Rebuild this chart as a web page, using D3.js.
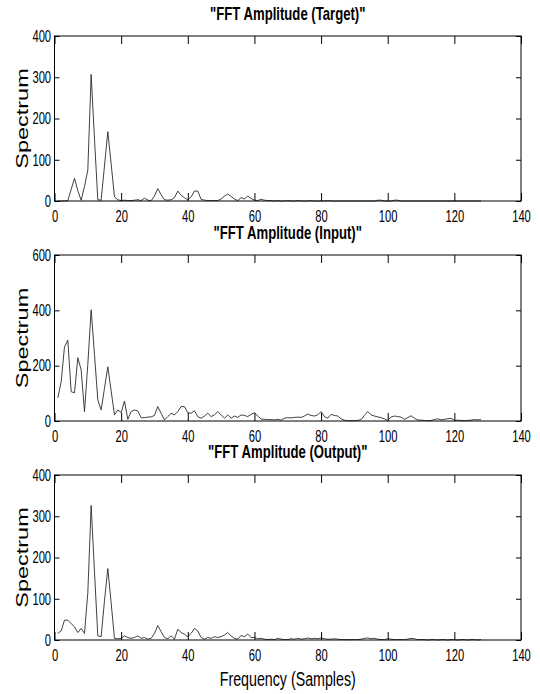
<!DOCTYPE html>
<html>
<head>
<meta charset="utf-8">
<script src="https://cdn.jsdelivr.net/npm/d3@7"></script>
<style>
  body { margin: 0; background: #fff; }
  svg { display: block; }
</style>
</head>
<body>
<svg id="chart" width="540" height="694"></svg>
<script>
// FFT amplitude values, one per sample 1..128
const targetSpectrum = [
  0, 0, 0, 1, 28, 55, 25, 2, 35, 75,
  307, 150, 3, 2, 85, 168, 90, 10, 3, 1,
  2, 1, 1, 2, 3, 1, 7, 2, 1, 12,
  30, 15, 3, 2, 3, 8, 24, 14, 8, 3,
  10, 24, 24, 4, 2, 1, 1, 1, 1, 5,
  12, 17, 11, 5, 1, 8, 5, 12, 6, 2,
  1, 4, 2, 1, 1, 0, 1, 0, 0, 1,
  0, 0, 1, 0, 0, 0, 1, 0, 0, 0,
  0, 1, 0, 0, 0, 0, 0, 0, 0, 0,
  0, 0, 0, 0, 0, 0, 2, 2, 0, 0,
  0, 2, 2, 0, 0, 0, 0, 0, 0, 0,
  0, 0, 0, 0, 0, 0, 0, 0, 0, 0,
  0, 0, 0, 0, 0, 0, 0, 0
];

const inputSpectrum = [
  84, 142, 268, 292, 106, 102, 229, 184, 34, 205,
  402, 240, 76, 40, 118, 196, 109, 22, 40, 30,
  72, 6, 34, 40, 36, 12, 12, 14, 15, 20,
  52, 28, 4, 16, 28, 22, 34, 52, 52, 30,
  28, 37, 16, 10, 18, 28, 16, 22, 34, 22,
  10, 22, 10, 18, 13, 22, 20, 16, 24, 30,
  18, 7, 6, 5, 5, 4, 6, 3, 10, 12,
  11, 13, 14, 13, 18, 25, 20, 18, 22, 34,
  16, 10, 24, 20, 18, 8, 3, 1, 1, 1,
  2, 5, 20, 34, 22, 18, 15, 12, 8, 2,
  14, 18, 16, 14, 6, 12, 19, 10, 4, 3,
  2, 1, 2, 5, 8, 4, 6, 8, 10, 2,
  3, 2, 1, 2, 3, 5, 4, 5
];

const outputSpectrum = [
  16, 22, 48, 48, 40, 32, 18, 28, 16, 115,
  326, 165, 10, 8, 95, 173, 90, 4, 3, 4,
  10, 6, 4, 6, 10, 4, 6, 2, 4, 16,
  35, 20, 6, 3, 10, 2, 26, 18, 14, 8,
  16, 28, 22, 6, 2, 6, 4, 8, 6, 8,
  12, 18, 10, 4, 2, 11, 8, 14, 6, 6,
  3, 4, 2, 1, 2, 1, 4, 2, 1, 1,
  3, 2, 4, 2, 3, 5, 3, 4, 3, 5,
  3, 2, 2, 3, 2, 1, 1, 1, 1, 1,
  1, 2, 4, 5, 3, 4, 2, 1, 1, 3,
  2, 1, 1, 1, 1, 2, 4, 3, 1, 1,
  1, 0, 1, 1, 0, 1, 1, 0, 1, 1,
  0, 1, 1, 0, 1, 1, 0, 1
];

const titles = ['"FFT Amplitude (Target)"', '"FFT Amplitude (Input)"', '"FFT Amplitude (Output)"'];
const yMaxes = [400, 600, 400];
const yTicks = [[0, 100, 200, 300, 400], [0, 200, 400, 600], [0, 100, 200, 300, 400]];
const xTicks = [0, 20, 40, 60, 80, 100, 120, 140];
const yLabel = "Spectrum";
const xLabel = "Frequency (Samples)";

// Layout (the picture is squashed sideways, so text gets a horizontal squeeze)
const left = 54.5, right = 521;
const tops = [36, 255, 475];
const bottoms = [201, 421, 640];
const titleBase = [20, 238.5, 458];
const squeeze = 0.73;
const font = "'Liberation Sans', Arial, Helvetica, sans-serif";

const svg = d3.select("#chart");
const x = d3.scaleLinear().domain([0, 140]).range([left, right]);
const series = [targetSpectrum, inputSpectrum, outputSpectrum];

series.forEach(function(values, p) {
  const y = d3.scaleLinear().domain([0, yMaxes[p]]).range([bottoms[p], tops[p]]);
  const g = svg.append("g");

  // Spectrum line
  const line = d3.line()
    .x((d, i) => x(i + 1))
    .y(d => y(d));

  g.append("path")
    .datum(values)
    .attr("fill", "none")
    .attr("stroke", "#2a2a2a")
    .attr("stroke-width", 0.9)
    .attr("d", line);

  // Box
  g.append("rect")
    .attr("x", left)
    .attr("y", tops[p])
    .attr("width", right - left)
    .attr("height", bottoms[p] - tops[p])
    .attr("fill", "none")
    .attr("stroke", "#000")
    .attr("stroke-width", 1);

  // Bottom axis with labels, ticks pointing inward
  g.append("g")
    .attr("transform", "translate(0," + bottoms[p] + ")")
    .call(d3.axisBottom(x).tickValues(xTicks).tickSize(-8).tickSizeOuter(0).tickPadding(9))
    .call(ax => ax.select(".domain").remove())
    .call(ax => ax.selectAll("text")
      .attr("transform", "scale(0.68,1)")
      .style("font-family", font)
      .style("font-size", "16.5px")
      .attr("fill", "#000"));

  // Top axis, ticks only
  g.append("g")
    .attr("transform", "translate(0," + tops[p] + ")")
    .call(d3.axisTop(x).tickValues(xTicks).tickSize(-8).tickSizeOuter(0).tickFormat(""))
    .call(ax => ax.select(".domain").remove());

  // Left axis with labels
  g.append("g")
    .attr("transform", "translate(" + left + ",0)")
    .call(d3.axisLeft(y).tickValues(yTicks[p]).tickSize(-5).tickSizeOuter(0).tickPadding(5))
    .call(ax => ax.select(".domain").remove())
    .call(ax => ax.selectAll("text")
      .attr("transform", "scale(0.68,1)")
      .style("font-family", font)
      .style("font-size", "16.5px")
      .attr("fill", "#000"));

  // Right axis, ticks only
  g.append("g")
    .attr("transform", "translate(" + right + ",0)")
    .call(d3.axisRight(y).tickValues(yTicks[p]).tickSize(-5).tickSizeOuter(0).tickFormat(""))
    .call(ax => ax.select(".domain").remove());

  g.selectAll(".tick line").attr("stroke", "#000");

  // Title
  g.append("g")
    .attr("transform", "translate(" + (left + right) / 2 + "," + titleBase[p] + ") scale(" + squeeze + ",1)")
    .append("text")
    .attr("text-anchor", "middle")
    .style("font-family", font)
    .style("font-size", "18px")
    .style("font-weight", "bold")
    .text(titles[p]);

  // Y label
  g.append("g")
    .attr("transform", "translate(28," + (tops[p] + bottoms[p]) / 2 + ") scale(1,1.38) rotate(-90)")
    .append("text")
    .attr("text-anchor", "middle")
    .style("font-family", font)
    .style("font-size", "17px")
    .text(yLabel);
});

// X label under the last panel
svg.append("g")
  .attr("transform", "translate(" + (left + right) / 2 + ",686) scale(" + squeeze + ",1)")
  .append("text")
  .attr("text-anchor", "middle")
  .style("font-family", font)
  .style("font-size", "19.5px")
  .text(xLabel);
</script>
</body>
</html>
